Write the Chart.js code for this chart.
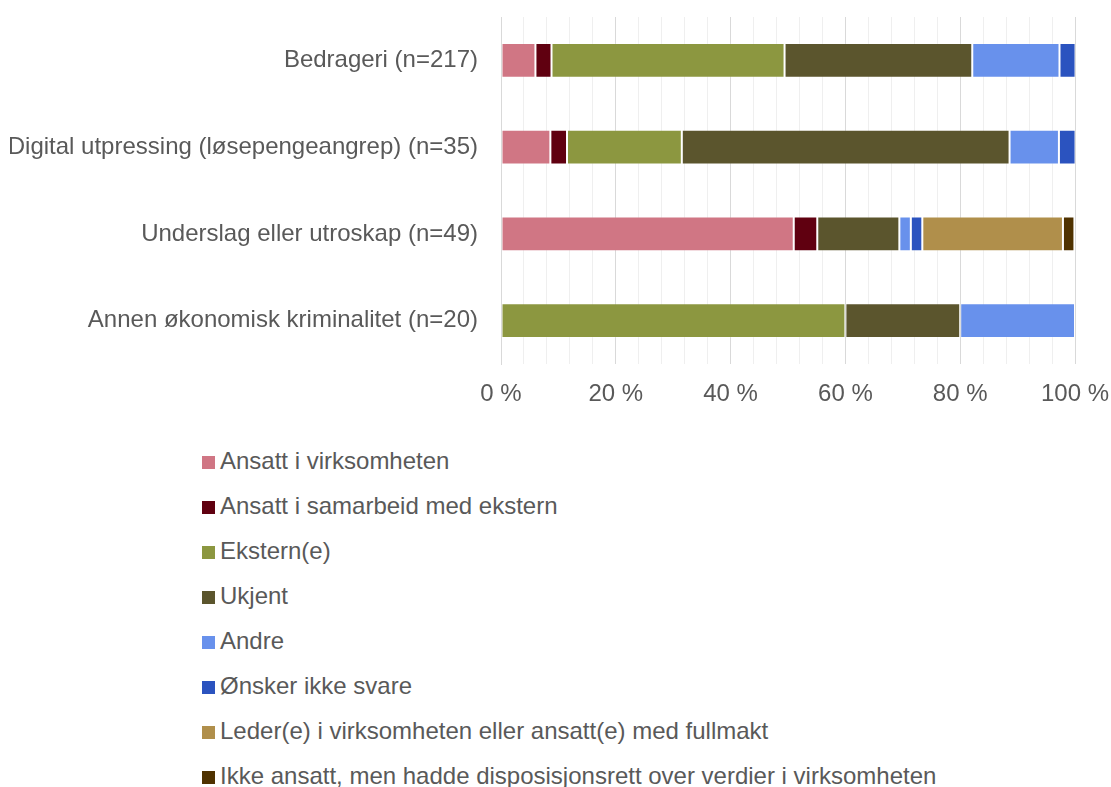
<!DOCTYPE html>
<html>
<head>
<meta charset="utf-8">
<script src="https://cdn.jsdelivr.net/npm/chart.js@4/dist/chart.umd.min.js"></script>
<style>
  html, body { margin: 0; padding: 0; background: #ffffff; }
  body { width: 1111px; height: 787px; position: relative; overflow: hidden;
         font-family: "Liberation Sans", Arial, sans-serif; }
  #wrap { position: absolute; left: 0; top: 0; width: 1111px; height: 420px; }
  #legend { position: absolute; left: 202px; top: 438px; margin: 0; padding: 0; list-style: none; }
  #legend li { height: 45px; display: flex; align-items: center; font-size: 24px; color: #595959; }
  #legend li span.box { display: inline-block; width: 13px; height: 13px; margin-right: 5px; position: relative; top: 2px; }
</style>
</head>
<body>
<div id="wrap"><canvas id="chart"></canvas></div>
<ul id="legend"></ul>
<script>
// Hvem stod bak hendelsen, fordelt på type økonomisk kriminalitet (prosent)
const categories = [
    'Bedrageri (n=217)',
    'Digital utpressing (løsepengeangrep) (n=35)',
    'Underslag eller utroskap (n=49)',
    'Annen økonomisk kriminalitet (n=20)'
];

const seriesNames = [
    'Ansatt i virksomheten',
    'Ansatt i samarbeid med ekstern',
    'Ekstern(e)',
    'Ukjent',
    'Andre',
    'Ønsker ikke svare',
    'Leder(e) i virksomheten eller ansatt(e) med fullmakt',
    'Ikke ansatt, men hadde disposisjonsrett over verdier i virksomheten'
];

const seriesColors = [
    '#d07684', '#600010', '#8c9740', '#5b552d',
    '#6891ec', '#2b53bf', '#b08f4b', '#4f3200'
];

// one array per series, values in the order of the categories above
const ansattVirksomheten = [6.0, 8.6, 51.0, null];
const ansattSamarbeid    = [2.8, 2.9, 4.1, null];
const eksterne           = [40.6, 20.0, null, 60.0];
const ukjent             = [32.7, 57.1, 14.3, 20.0];
const andre              = [15.2, 8.6, 2.0, 20.0];
const onskerIkkeSvare    = [2.8, 2.9, 2.0, null];
const ledere             = [null, null, 24.5, null];
const ikkeAnsatt         = [null, null, 2.0, null];

const seriesValues = [
    ansattVirksomheten, ansattSamarbeid, eksterne, ukjent,
    andre, onskerIkkeSvare, ledere, ikkeAnsatt
];

const xTicks = [0, 20, 40, 60, 80, 100];

const textColor = '#595959';
const fontFamily = '"Liberation Sans", Arial, sans-serif';

const datasets = seriesNames.map((name, i) => ({
    label: name,
    data: seriesValues[i],
    backgroundColor: seriesColors[i],
    borderColor: 'rgba(255, 255, 255, 0.15)',
    borderWidth: 1,
    borderSkipped: false,
    barPercentage: 0.4,
    categoryPercentage: 1.0
}));

const chart = new Chart(document.getElementById('chart').getContext('2d'), {
    type: 'bar',
    data: { labels: categories, datasets: datasets },
    options: {
        indexAxis: 'y',
        responsive: true,
        maintainAspectRatio: false,
        animation: false,
        layout: { padding: { left: 10, right: 36, top: 17, bottom: 0 } },
        scales: {
            x: {
                stacked: true,
                min: 0,
                max: 100,
                grid: {
                    drawTicks: false,
                    color: ctx => (ctx.tick && xTicks.includes(ctx.tick.value)) ? '#d9d9d9' : '#efefef',
                    lineWidth: 1
                },
                border: { display: false },
                ticks: {
                    stepSize: 4,
                    autoSkip: false,
                    maxRotation: 0,
                    padding: 16,
                    color: textColor,
                    font: { family: fontFamily, size: 24 },
                    callback: value => xTicks.includes(value) ? value + ' %' : ''
                },
                afterFit: scale => {
                    scale.height = 56;
                    scale.paddingLeft = 0;
                    scale.paddingRight = 0;
                }
            },
            y: {
                stacked: true,
                grid: { display: false, drawTicks: false },
                border: { display: true, color: '#d9d9d9' },
                ticks: {
                    padding: 23,
                    color: textColor,
                    font: { family: fontFamily, size: 24 }
                },
                afterFit: scale => {
                    scale.width = 491;
                    scale.paddingTop = 0;
                    scale.paddingBottom = 0;
                }
            }
        },
        plugins: {
            legend: { display: false },
            tooltip: { enabled: false }
        }
    }
});

// legend below the chart, one entry per row
const legendEl = document.getElementById('legend');
chart.data.datasets.forEach(ds => {
    const li = document.createElement('li');
    const box = document.createElement('span');
    box.className = 'box';
    box.style.background = ds.backgroundColor;
    li.appendChild(box);
    li.appendChild(document.createTextNode(ds.label));
    legendEl.appendChild(li);
});
</script>
</body>
</html>
